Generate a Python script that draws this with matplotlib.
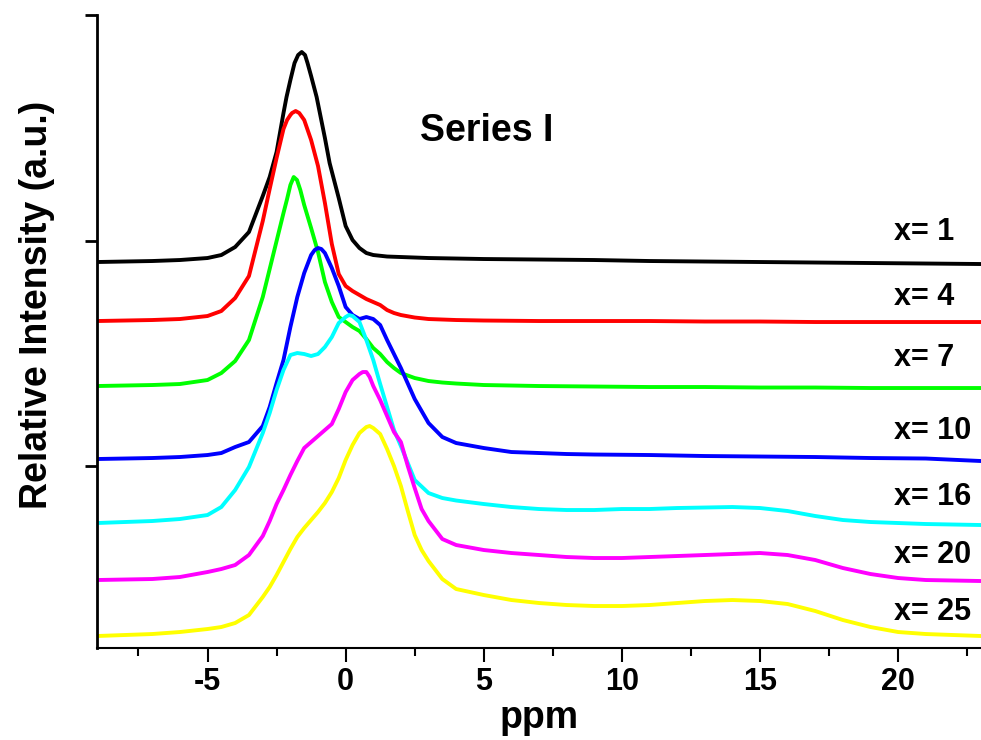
import numpy as np
import matplotlib
matplotlib.use('Agg')
import matplotlib.pyplot as plt
from matplotlib.ticker import MultipleLocator

plt.rcParams['font.family'] = ['Liberation Sans', 'DejaVu Sans']
plt.rcParams['font.weight'] = 'bold'
plt.rcParams['axes.unicode_minus'] = False

# chemical shift (ppm) and stacked intensity (a.u.) for each composition
ppm_x1 = [-9, -7, -6, -5, -4.5, -4, -3.5, -3, -2.75, -2.5, -2.25, -2.14, -2,
          -1.85, -1.72, -1.59, -1.47, -1.38, -1.25, -1.05, -0.75, -0.58, -0.25,
          0, 0.25, 0.5, 0.75, 1, 1.5, 2, 3, 4, 5, 7, 9, 11, 13, 15, 17, 19,
          21, 23]
int_x1 = [386, 387, 388, 390, 393, 401, 416, 452, 471, 496, 535, 551, 568,
          585, 593, 596, 593, 585, 572, 551, 510, 485, 450,
          422, 408, 400, 395, 393, 391.5, 391, 390, 389.5, 389, 388.5, 388,
          387, 386.5, 386, 385.5, 385, 384.5, 384]

ppm_x4 = [-9, -7, -6, -5, -4.5, -4, -3.5, -3, -2.75, -2.5, -2.25, -2.12, -2,
          -1.94, -1.81, -1.68, -1.5, -1.25, -1, -0.75, -0.5, -0.25, 0, 0.25,
          0.5, 0.75, 1, 1.25, 1.5, 1.75, 2, 2.5, 3, 4, 5, 7, 9, 11, 13, 15,
          17, 19, 21, 23]
int_x4 = [327, 328, 329, 332, 337, 350, 372, 427, 459, 490, 519, 528, 533,
          535, 537, 535, 528, 508, 482, 445, 404, 374, 362, 357,
          353, 349, 346, 343, 338, 335, 333, 330.5, 329, 328, 327.5, 327, 327,
          327, 326.5, 326.5, 326, 326, 326, 326]

ppm_x7 = [-9, -7, -6, -5, -4.5, -4, -3.5, -3, -2.75, -2.5, -2.25, -2.12, -2,
          -1.88, -1.76, -1.64, -1.5, -1.25, -1, -0.75, -0.5, -0.25, 0, 0.25,
          0.5, 0.75, 1, 1.25, 1.5, 1.75, 2, 2.5, 3, 3.5, 4, 5, 7, 9, 11, 13,
          15, 17, 19, 21, 23]
int_x7 = [262, 263, 264, 268, 275, 287, 308, 351, 379, 407, 435, 449, 463,
          471, 468, 458, 443, 420, 396, 366, 346, 331, 326, 321,
          317, 309, 300, 294, 286, 280, 275, 270, 267, 265.5, 264.5, 263, 262,
          261.5, 261, 261, 260.5, 260.5, 260, 260, 260]

ppm_x10 = [-9, -7, -6, -5, -4.5, -4, -3.5, -3, -2.75, -2.5, -2.25, -2, -1.75,
           -1.5, -1.25, -1.12, -1, -0.88, -0.75, -0.5, -0.25, 0, 0.25, 0.5,
           0.75, 1, 1.25, 1.5, 1.75, 2, 2.5, 3, 3.5, 4, 5, 6, 7, 8, 9, 11, 13,
           15, 17, 19, 21, 23]
int_x10 = [189, 190, 191, 193, 195, 201, 206, 222, 241, 265, 288, 321, 351,
           375, 393, 398, 400, 399, 395, 380, 362, 341, 333, 329,
           331, 329, 323, 308, 294, 280, 249, 225, 211, 205, 200, 196, 195,
           194, 193.5, 193, 192, 191.5, 191, 190, 189.5, 187]

ppm_x16 = [-9, -7, -6, -5, -4.5, -4, -3.5, -3, -2.75, -2.5, -2.25, -2, -1.75,
           -1.5, -1.25, -1, -0.75, -0.5, -0.25, 0, 0.12, 0.25, 0.5, 0.75, 1,
           1.25, 1.5, 1.75, 2, 2.5, 3, 3.5, 4, 5, 6, 7, 8, 9, 10, 11, 12, 13,
           14, 15, 16, 17, 18, 19, 20, 21, 23]
int_x16 = [125, 127, 129, 133, 141, 158, 181, 215, 235, 258, 278, 293, 295,
           294, 292, 294, 301, 311, 325, 331, 333, 332, 326, 308, 288,
           264, 241, 218, 202, 168, 155, 150, 147.5, 144, 141, 139, 138, 138,
           139, 139, 140, 140.5, 141, 140, 137, 132, 128, 126, 125, 124, 123]

ppm_x20 = [-9, -7, -6, -5, -4.5, -4, -3.5, -3, -2.75, -2.5, -2.25, -2, -1.75,
           -1.5, -1.25, -1, -0.75, -0.5, -0.25, 0, 0.25, 0.5, 0.62, 0.75, 0.87,
           1, 1.25, 1.5, 1.75, 2, 2.25, 2.5, 2.75, 3, 3.5, 4, 5, 6, 7, 8, 9,
           10, 11, 12, 13, 14, 15, 16, 17, 18, 19, 20, 21, 23]
int_x20 = [68, 69, 71, 76, 79, 83, 93, 112, 127, 144, 158, 173, 187,
           200, 206, 212, 218, 224, 239, 256, 268, 274, 276, 276, 271,
           262, 248, 232, 216, 206, 182, 160, 139, 127, 109, 103, 98, 95, 93,
           91, 90, 90, 91, 92, 93, 94, 95, 93, 88, 80, 74, 70, 68, 67]

ppm_x25 = [-9, -7, -6, -5, -4.5, -4, -3.5, -3, -2.75, -2.5, -2.25, -2, -1.75,
           -1.5, -1.25, -1, -0.75, -0.5, -0.25, 0, 0.25, 0.5, 0.75, 0.87, 1,
           1.25, 1.5, 1.75, 2, 2.25, 2.5, 2.75, 3, 3.5, 4, 5, 6, 7, 8, 9, 10,
           11, 12, 13, 14, 15, 16, 17, 18, 19, 20, 21, 23]
int_x25 = [12, 14, 16, 19, 21, 25, 33, 51, 61, 73, 86, 99, 111,
           120, 128, 136, 145, 156, 170, 188, 203, 215, 221, 222, 220,
           214, 199, 182, 162, 137, 113, 98, 87, 69, 59, 53, 48, 45, 43, 42,
           42, 43, 45, 47, 48, 47, 44, 37, 28, 21, 16, 14, 12]

traces = [(ppm_x1, int_x1), (ppm_x4, int_x4), (ppm_x7, int_x7),
          (ppm_x10, int_x10), (ppm_x16, int_x16), (ppm_x20, int_x20),
          (ppm_x25, int_x25)]
labels = ['x= 1', 'x= 4', 'x= 7', 'x= 10', 'x= 16', 'x= 20', 'x= 25']
colors = ['#000000', '#ff0000', '#00ff00', '#0000ff', '#00ffff', '#ff00ff', '#ffff00']
label_y = [416, 351, 290, 217, 151, 93, 36]

fig = plt.figure(figsize=(9.81, 7.4), dpi=100)
ax = fig.add_axes([0.0989, 0.1243, 0.9011, 0.8554])

for (x, y), c in zip(traces, colors):
    ax.plot(x, y, color=c, lw=2.8, solid_joinstyle='round')

for lab, ly in zip(labels, label_y):
    ax.text(19.85, ly, lab, ha='left', va='center', fontsize=22, fontweight='bold')

ax.text(5.1, 517, 'Series I', ha='center', va='center', fontsize=27, fontweight='bold')

ax.set_xlim(-9, 23)
ax.set_ylim(0, 633)
ax.xaxis.set_major_locator(MultipleLocator(5))
ax.xaxis.set_minor_locator(MultipleLocator(2.5))
ax.set_yticks([182, 407, 633])
ax.set_yticklabels([])

for s in ['top', 'right']:
    ax.spines[s].set_visible(False)
ax.spines['left'].set_linewidth(2.0)
ax.spines['bottom'].set_linewidth(1.5)
ax.tick_params(axis='x', which='major', direction='out', length=10, width=1.5,
               labelsize=22, pad=4)
ax.tick_params(axis='x', which='minor', direction='out', length=5.5, width=1.5)
ax.tick_params(axis='y', which='major', direction='out', length=9, width=2.0)
for t in ax.get_xticklabels():
    t.set_fontweight('bold')

ax.set_xlabel('ppm', fontsize=27, fontweight='bold', labelpad=2)
ax.set_ylabel('Relative Intensity (a.u.)', fontsize=27, fontweight='bold')
ax.yaxis.set_label_coords(-0.048, 0.542)

fig.savefig('out.png', dpi=100)
